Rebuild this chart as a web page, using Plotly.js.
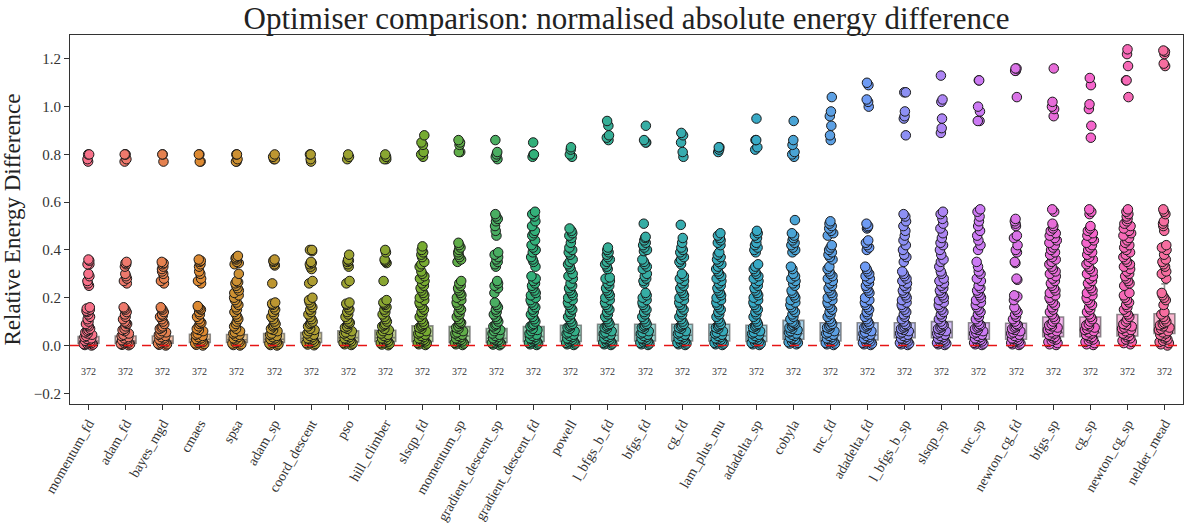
<!DOCTYPE html>
<html>
<head>
<meta charset="utf-8">
<script src="https://cdn.plot.ly/plotly-3.0.1.min.js"></script>
<style>html,body{margin:0;padding:0;background:#fff;}#chart{width:1192px;height:525px;}</style>
</head>
<body>
<div id="chart"></div>
<script>
const categories = ["momentum_fd","adam_fd","bayes_mgd","cmaes","spsa","adam_sp","coord_descent","pso","hill_climber","slsqp_fd","momentum_sp","gradient_descent_sp","gradient_descent_fd","powell","l_bfgs_b_fd","bfgs_fd","cg_fd","lam_plus_mu","adadelta_sp","cobyla","tnc_fd","adadelta_fd","l_bfgs_b_sp","slsqp_sp","tnc_sp","newton_cg_fd","bfgs_sp","cg_sp","newton_cg_sp","nelder_mead"];

const counts = [372,372,372,372,372,372,372,372,372,372,372,372,372,372,372,372,372,372,372,372,372,372,372,372,372,372,372,372,372,372];

// box statistics
const q1 =         [0.010,0.010,0.010,0.013,0.013,0.013,0.013,0.015,0.017,0.017,0.013,0.013,0.017,0.017,0.019,0.019,0.019,0.019,0.017,0.026,0.019,0.023,0.033,0.033,0.026,0.026,0.037,0.037,0.040,0.050];
const medians =    [0.019,0.019,0.019,0.026,0.024,0.026,0.029,0.033,0.033,0.040,0.040,0.030,0.037,0.043,0.043,0.043,0.043,0.043,0.040,0.050,0.044,0.044,0.057,0.054,0.051,0.051,0.054,0.054,0.070,0.084];
const q3 =         [0.037,0.040,0.040,0.047,0.046,0.050,0.054,0.061,0.064,0.082,0.079,0.071,0.079,0.085,0.089,0.089,0.089,0.089,0.085,0.105,0.095,0.095,0.095,0.100,0.095,0.093,0.119,0.119,0.130,0.133];
const lowerfence = [0.000,0.001,0.000,0.000,0.000,0.000,0.001,0.002,0.001,0.002,0.002,0.001,0.002,0.002,0.002,0.002,0.002,0.002,0.002,0.005,0.002,0.002,0.002,0.002,0.002,0.002,0.002,0.002,0.005,0.000];
const upperfence = [0.078,0.085,0.085,0.098,0.096,0.105,0.116,0.130,0.134,0.180,0.178,0.158,0.172,0.187,0.194,0.194,0.194,0.194,0.187,0.223,0.209,0.203,0.188,0.200,0.199,0.193,0.242,0.242,0.265,0.258];

// visible sample points per optimiser
const momentum_fd = [0.80,0.80,0.78,0.77,0.36,0.355,0.34,0.34,0.30,0.29,0.27,0.26,0.25,0.16,0.155,0.15,0.145,0.14,0.13,0.12,0.11,0.10,0.09,0.085,0.08,0.07,0.065,0.06,0.055,0.05,0.045,0.04,0.035,0.03,0.027,0.024,0.02,0.018,0.015,0.012,0.01,0.008,0.006,0.004,0.002,0.0];
const adam_fd = [0.80,0.80,0.80,0.78,0.77,0.35,0.345,0.34,0.33,0.30,0.29,0.28,0.27,0.26,0.16,0.155,0.15,0.14,0.13,0.12,0.11,0.10,0.095,0.09,0.08,0.07,0.065,0.06,0.05,0.045,0.04,0.035,0.03,0.026,0.022,0.02,0.017,0.014,0.012,0.01,0.007,0.005,0.003,0.001];
const bayes_mgd = [0.80,0.80,0.77,0.35,0.345,0.34,0.33,0.32,0.31,0.30,0.28,0.27,0.26,0.16,0.155,0.15,0.14,0.13,0.125,0.12,0.11,0.10,0.09,0.08,0.075,0.07,0.06,0.055,0.05,0.045,0.04,0.035,0.03,0.025,0.022,0.02,0.016,0.013,0.01,0.008,0.005,0.003,0.0];
const cmaes = [0.80,0.80,0.77,0.77,0.36,0.355,0.35,0.34,0.33,0.31,0.30,0.28,0.27,0.26,0.165,0.16,0.155,0.15,0.14,0.13,0.12,0.11,0.10,0.095,0.09,0.08,0.07,0.065,0.06,0.05,0.045,0.04,0.035,0.03,0.027,0.024,0.02,0.017,0.014,0.012,0.009,0.006,0.003,0.0];
const spsa = [0.80,0.80,0.78,0.77,0.77,0.375,0.37,0.365,0.36,0.35,0.345,0.34,0.30,0.27,0.265,0.26,0.25,0.24,0.23,0.22,0.21,0.20,0.19,0.18,0.17,0.16,0.15,0.14,0.13,0.12,0.11,0.10,0.09,0.08,0.07,0.06,0.055,0.05,0.045,0.04,0.035,0.03,0.025,0.02,0.017,0.014,0.011,0.008,0.005,0.002,0.0];
const adam_sp = [0.80,0.79,0.78,0.78,0.36,0.355,0.35,0.34,0.335,0.26,0.18,0.175,0.17,0.16,0.15,0.14,0.13,0.12,0.11,0.10,0.09,0.085,0.08,0.07,0.065,0.06,0.05,0.045,0.04,0.035,0.03,0.027,0.024,0.02,0.017,0.014,0.011,0.008,0.005,0.002,0.0];
const coord_descent = [0.80,0.80,0.78,0.77,0.40,0.40,0.395,0.35,0.345,0.34,0.33,0.32,0.27,0.26,0.20,0.19,0.18,0.17,0.16,0.15,0.14,0.13,0.12,0.11,0.10,0.095,0.09,0.08,0.07,0.065,0.06,0.05,0.045,0.04,0.035,0.03,0.027,0.024,0.02,0.016,0.013,0.01,0.007,0.004,0.001];
const pso = [0.80,0.79,0.78,0.38,0.36,0.355,0.35,0.34,0.33,0.27,0.26,0.18,0.175,0.17,0.16,0.15,0.14,0.13,0.12,0.11,0.10,0.095,0.09,0.08,0.075,0.07,0.06,0.055,0.05,0.045,0.04,0.035,0.03,0.027,0.024,0.02,0.017,0.014,0.011,0.008,0.005,0.002];
const hill_climber = [0.80,0.79,0.78,0.78,0.40,0.39,0.36,0.355,0.35,0.345,0.27,0.19,0.18,0.175,0.17,0.16,0.15,0.14,0.13,0.12,0.11,0.10,0.09,0.085,0.08,0.07,0.065,0.06,0.05,0.045,0.04,0.035,0.03,0.027,0.024,0.02,0.016,0.013,0.01,0.007,0.004,0.001];
const slsqp_fd = [0.88,0.85,0.84,0.81,0.80,0.79,0.415,0.40,0.39,0.38,0.37,0.35,0.34,0.33,0.31,0.30,0.29,0.28,0.27,0.26,0.25,0.24,0.23,0.22,0.21,0.20,0.19,0.18,0.17,0.16,0.15,0.14,0.13,0.12,0.11,0.10,0.09,0.085,0.08,0.075,0.07,0.06,0.055,0.05,0.045,0.04,0.035,0.03,0.027,0.024,0.02,0.017,0.014,0.011,0.008,0.005,0.002];
const momentum_sp = [0.86,0.85,0.84,0.81,0.81,0.43,0.42,0.41,0.40,0.39,0.38,0.37,0.36,0.35,0.27,0.26,0.25,0.24,0.23,0.22,0.21,0.20,0.19,0.18,0.17,0.16,0.15,0.14,0.13,0.12,0.11,0.10,0.095,0.09,0.08,0.075,0.07,0.06,0.055,0.05,0.045,0.04,0.035,0.03,0.027,0.024,0.02,0.017,0.014,0.011,0.008,0.005,0.002];
const gradient_descent_sp = [0.86,0.81,0.80,0.79,0.78,0.55,0.54,0.53,0.52,0.50,0.48,0.46,0.39,0.38,0.37,0.36,0.35,0.34,0.33,0.27,0.26,0.25,0.24,0.22,0.18,0.17,0.16,0.15,0.14,0.13,0.12,0.11,0.10,0.09,0.085,0.08,0.07,0.065,0.06,0.05,0.045,0.04,0.035,0.03,0.025,0.022,0.019,0.016,0.013,0.01,0.007,0.004,0.001];
const gradient_descent_fd = [0.85,0.80,0.80,0.79,0.56,0.55,0.54,0.52,0.50,0.48,0.47,0.46,0.44,0.42,0.41,0.40,0.39,0.37,0.36,0.35,0.33,0.29,0.28,0.27,0.26,0.25,0.24,0.23,0.22,0.21,0.20,0.19,0.18,0.17,0.16,0.15,0.14,0.13,0.12,0.11,0.10,0.09,0.085,0.08,0.07,0.065,0.06,0.05,0.045,0.04,0.035,0.03,0.027,0.024,0.02,0.017,0.014,0.011,0.008,0.005,0.002];
const powell = [0.83,0.82,0.80,0.79,0.49,0.48,0.47,0.46,0.45,0.43,0.41,0.40,0.39,0.38,0.36,0.35,0.34,0.33,0.32,0.30,0.29,0.28,0.26,0.25,0.24,0.23,0.22,0.21,0.20,0.19,0.18,0.17,0.16,0.15,0.14,0.13,0.12,0.11,0.10,0.09,0.085,0.08,0.075,0.07,0.06,0.055,0.05,0.045,0.04,0.035,0.03,0.027,0.024,0.02,0.017,0.014,0.011,0.008,0.005,0.002];
const l_bfgs_b_fd = [0.94,0.92,0.88,0.87,0.86,0.41,0.40,0.39,0.38,0.37,0.36,0.35,0.34,0.33,0.32,0.285,0.28,0.27,0.26,0.25,0.24,0.23,0.22,0.21,0.20,0.19,0.18,0.17,0.16,0.15,0.14,0.13,0.12,0.11,0.10,0.09,0.085,0.08,0.075,0.07,0.06,0.055,0.05,0.045,0.04,0.035,0.03,0.027,0.024,0.02,0.017,0.014,0.011,0.008,0.005,0.002];
const bfgs_fd = [0.92,0.86,0.85,0.85,0.51,0.455,0.45,0.44,0.43,0.42,0.41,0.40,0.395,0.36,0.35,0.34,0.33,0.32,0.30,0.29,0.28,0.27,0.26,0.22,0.21,0.20,0.19,0.18,0.17,0.16,0.15,0.14,0.13,0.12,0.11,0.10,0.09,0.085,0.08,0.075,0.07,0.06,0.055,0.05,0.045,0.04,0.035,0.03,0.027,0.024,0.02,0.017,0.014,0.011,0.008,0.005,0.002];
const cg_fd = [0.89,0.88,0.85,0.81,0.79,0.505,0.45,0.43,0.41,0.40,0.39,0.38,0.37,0.36,0.35,0.34,0.30,0.29,0.28,0.27,0.26,0.25,0.24,0.23,0.22,0.21,0.20,0.19,0.18,0.17,0.16,0.15,0.14,0.13,0.12,0.11,0.10,0.09,0.085,0.08,0.075,0.07,0.06,0.055,0.05,0.045,0.04,0.035,0.03,0.027,0.024,0.02,0.017,0.014,0.011,0.008,0.005,0.002];
const lam_plus_mu = [0.83,0.83,0.82,0.81,0.47,0.46,0.45,0.44,0.43,0.42,0.39,0.38,0.37,0.36,0.35,0.34,0.33,0.32,0.31,0.30,0.29,0.28,0.27,0.26,0.25,0.24,0.23,0.22,0.21,0.20,0.19,0.18,0.17,0.16,0.15,0.14,0.13,0.12,0.11,0.10,0.09,0.085,0.08,0.075,0.07,0.06,0.055,0.05,0.045,0.04,0.035,0.03,0.027,0.024,0.02,0.017,0.014,0.011,0.008,0.005,0.002];
const adadelta_sp = [0.95,0.86,0.86,0.83,0.82,0.48,0.47,0.46,0.45,0.43,0.42,0.41,0.40,0.39,0.34,0.33,0.32,0.31,0.30,0.29,0.28,0.27,0.26,0.25,0.24,0.23,0.22,0.21,0.20,0.19,0.18,0.17,0.16,0.15,0.14,0.13,0.12,0.11,0.10,0.09,0.085,0.08,0.075,0.07,0.06,0.055,0.05,0.045,0.04,0.035,0.03,0.027,0.024,0.02,0.017,0.014,0.011,0.008,0.005,0.002];
const cobyla = [0.94,0.86,0.84,0.81,0.80,0.79,0.525,0.47,0.46,0.45,0.44,0.43,0.42,0.41,0.40,0.39,0.33,0.32,0.30,0.29,0.28,0.27,0.26,0.25,0.23,0.22,0.21,0.20,0.19,0.18,0.17,0.16,0.15,0.14,0.13,0.12,0.11,0.10,0.095,0.09,0.085,0.08,0.075,0.07,0.065,0.06,0.055,0.05,0.045,0.04,0.035,0.03,0.027,0.024,0.02,0.017,0.014,0.011,0.008,0.005];
const tnc_fd = [1.04,0.98,0.96,0.92,0.88,0.86,0.52,0.51,0.50,0.49,0.48,0.47,0.46,0.42,0.41,0.40,0.39,0.38,0.37,0.36,0.33,0.32,0.31,0.30,0.29,0.28,0.27,0.26,0.25,0.24,0.23,0.22,0.21,0.20,0.19,0.18,0.17,0.16,0.15,0.14,0.13,0.12,0.11,0.10,0.09,0.085,0.08,0.075,0.07,0.06,0.055,0.05,0.045,0.04,0.035,0.03,0.027,0.024,0.02,0.017,0.014,0.011,0.008,0.005,0.002];
const adadelta_fd = [1.10,1.09,1.03,1.02,1.00,0.51,0.50,0.495,0.49,0.44,0.43,0.42,0.41,0.40,0.33,0.32,0.31,0.30,0.29,0.28,0.27,0.26,0.25,0.24,0.23,0.22,0.20,0.19,0.18,0.17,0.16,0.15,0.14,0.13,0.12,0.11,0.10,0.09,0.085,0.08,0.075,0.07,0.06,0.055,0.05,0.045,0.04,0.035,0.03,0.027,0.024,0.02,0.017,0.014,0.011,0.008,0.005,0.002];
const l_bfgs_b_sp = [1.06,1.06,0.98,0.96,0.95,0.88,0.55,0.54,0.52,0.50,0.48,0.46,0.44,0.42,0.40,0.38,0.37,0.35,0.31,0.30,0.29,0.28,0.27,0.26,0.25,0.24,0.23,0.22,0.21,0.20,0.19,0.18,0.17,0.16,0.15,0.14,0.13,0.12,0.11,0.10,0.09,0.085,0.08,0.075,0.07,0.065,0.06,0.055,0.05,0.045,0.04,0.035,0.03,0.027,0.024,0.02,0.017,0.014,0.011,0.008,0.005,0.002];
const slsqp_sp = [1.13,1.03,1.02,0.95,0.91,0.89,0.56,0.55,0.53,0.51,0.49,0.47,0.45,0.43,0.42,0.40,0.38,0.36,0.35,0.33,0.31,0.30,0.28,0.27,0.26,0.25,0.24,0.23,0.22,0.21,0.20,0.19,0.18,0.17,0.16,0.15,0.14,0.13,0.12,0.11,0.10,0.09,0.085,0.08,0.075,0.07,0.065,0.06,0.055,0.05,0.045,0.04,0.035,0.03,0.027,0.024,0.02,0.017,0.014,0.011,0.008,0.005,0.002];
const tnc_sp = [1.11,1.11,1.00,0.98,0.94,0.94,0.57,0.56,0.54,0.52,0.50,0.48,0.46,0.44,0.42,0.40,0.35,0.33,0.31,0.30,0.28,0.27,0.25,0.24,0.23,0.22,0.21,0.20,0.19,0.18,0.17,0.16,0.15,0.14,0.13,0.12,0.11,0.10,0.09,0.085,0.08,0.075,0.07,0.065,0.06,0.055,0.05,0.045,0.04,0.035,0.03,0.027,0.024,0.02,0.017,0.014,0.011,0.008,0.005,0.002];
const newton_cg_fd = [1.16,1.16,1.15,1.15,1.04,0.53,0.52,0.51,0.50,0.46,0.45,0.42,0.40,0.39,0.35,0.345,0.28,0.275,0.21,0.205,0.19,0.16,0.15,0.14,0.13,0.12,0.11,0.10,0.09,0.085,0.08,0.075,0.07,0.065,0.06,0.055,0.05,0.045,0.04,0.035,0.03,0.027,0.024,0.02,0.017,0.014,0.011,0.008,0.005,0.002];
const bfgs_sp = [1.16,1.02,1.00,0.99,0.96,0.57,0.56,0.51,0.50,0.49,0.48,0.47,0.46,0.45,0.44,0.43,0.42,0.41,0.40,0.39,0.38,0.37,0.36,0.35,0.34,0.33,0.32,0.31,0.30,0.29,0.28,0.27,0.26,0.25,0.24,0.23,0.22,0.21,0.20,0.19,0.18,0.17,0.16,0.15,0.14,0.13,0.12,0.11,0.10,0.09,0.085,0.08,0.075,0.07,0.065,0.06,0.055,0.05,0.045,0.04,0.035,0.03,0.025,0.02,0.015,0.01,0.005,0.002];
const cg_sp = [1.12,1.09,1.01,0.99,0.92,0.87,0.57,0.56,0.55,0.50,0.49,0.48,0.47,0.46,0.45,0.44,0.43,0.42,0.41,0.40,0.39,0.38,0.37,0.36,0.35,0.34,0.33,0.32,0.31,0.30,0.29,0.28,0.27,0.26,0.25,0.24,0.23,0.22,0.21,0.20,0.19,0.18,0.17,0.16,0.15,0.14,0.13,0.12,0.11,0.10,0.09,0.085,0.08,0.075,0.07,0.065,0.06,0.055,0.05,0.045,0.04,0.035,0.03,0.025,0.02,0.015,0.01,0.005,0.002];
const newton_cg_sp = [1.24,1.22,1.17,1.11,1.11,1.04,0.57,0.56,0.55,0.54,0.53,0.52,0.51,0.50,0.49,0.48,0.47,0.46,0.45,0.44,0.43,0.42,0.41,0.40,0.39,0.38,0.37,0.36,0.35,0.34,0.33,0.32,0.31,0.30,0.29,0.28,0.27,0.26,0.25,0.22,0.21,0.20,0.19,0.18,0.17,0.16,0.15,0.14,0.13,0.12,0.11,0.10,0.09,0.085,0.08,0.075,0.07,0.065,0.06,0.055,0.05,0.045,0.04,0.035,0.03,0.025,0.02,0.015,0.01,0.005];
const nelder_mead = [1.235,1.23,1.22,1.18,1.17,0.57,0.56,0.55,0.52,0.51,0.50,0.48,0.42,0.41,0.40,0.38,0.36,0.35,0.34,0.33,0.31,0.30,0.28,0.22,0.21,0.20,0.19,0.17,0.14,0.13,0.12,0.11,0.10,0.095,0.09,0.085,0.08,0.075,0.07,0.065,0.06,0.055,0.05,0.045,0.04,0.035,0.03,0.025,0.02,0.015,0.01,0.005,0.0];

const pointSets = [momentum_fd,adam_fd,bayes_mgd,cmaes,spsa,adam_sp,coord_descent,pso,hill_climber,slsqp_fd,momentum_sp,gradient_descent_sp,gradient_descent_fd,powell,l_bfgs_b_fd,bfgs_fd,cg_fd,lam_plus_mu,adadelta_sp,cobyla,tnc_fd,adadelta_fd,l_bfgs_b_sp,slsqp_sp,tnc_sp,newton_cg_fd,bfgs_sp,cg_sp,newton_cg_sp,nelder_mead];

const colors = ["#f77189","#ee796c","#e5814f","#dc8932","#cd9032","#bd9631","#ae9d31","#9ca231","#89a631","#77ab31","#60ad49","#4aae62","#33b07a","#34af88","#35ae96","#36ada4","#37acaf","#37aaba","#38a9c5","#4aa4d5","#5ca0e4","#6e9bf4","#8d90f4","#ad85f4","#cc7af4","#da73e7","#e76cd9","#f565cc","#f669b6","#f66d9f"];

function rgba(hex, a) {
  const r = parseInt(hex.slice(1,3),16), g = parseInt(hex.slice(3,5),16), b = parseInt(hex.slice(5,7),16);
  return `rgba(${r},${g},${b},${a})`;
}

const FONT = "Liberation Serif, DejaVu Serif, serif";
const traces = [];
categories.forEach((c, i) => {
  traces.push({
    type: 'box', x: [c], q1: [q1[i]], median: [medians[i]], q3: [q3[i]],
    lowerfence: [lowerfence[i]], upperfence: [upperfence[i]],
    fillcolor: rgba(colors[i], 0.5),
    line: {color: 'rgba(70,70,70,0.6)', width: 1.6},
    whiskerwidth: 0.3, boxpoints: false, hoverinfo: 'skip', showlegend: false
  });
});
categories.forEach((c, i) => {
  const ys = pointSets[i];
  traces.push({
    type: 'box', x: ys.map(() => c), y: ys,
    boxpoints: 'all', jitter: 0.55, pointpos: 0,
    fillcolor: 'rgba(0,0,0,0)', line: {color: 'rgba(0,0,0,0)', width: 0},
    marker: {color: colors[i], size: 9.5, line: {color: '#1a1a1a', width: 1}},
    showlegend: false
  });
});

const annotations = categories.map((c, i) => ({
  x: c, y: -0.107, xref: 'x', yref: 'y', text: String(counts[i]), showarrow: false,
  font: {family: FONT, size: 10, color: '#333'}
}));

const layout = {
  width: 1192, height: 525,
  margin: {l: 70, r: 9, t: 35, b: 121},
  paper_bgcolor: 'white', plot_bgcolor: 'white',
  boxmode: 'overlay', boxgap: 0.2,
  showlegend: false,
  title: {text: 'Optimiser comparison: normalised absolute energy difference',
          font: {family: FONT, size: 31, color: '#222'},
          x: 0.5, xref: 'paper', xanchor: 'center', y: 0.966, yref: 'container', yanchor: 'middle'},
  xaxis: {type: 'category', range: [-0.5, 29.5], tickangle: -60, ticks: 'outside', ticklen: 5,
          tickcolor: '#333', showline: true, linecolor: '#333', linewidth: 1, mirror: true,
          showgrid: false, zeroline: false, tickfont: {family: FONT, size: 14, color: '#333'},
          automargin: false},
  yaxis: {range: [-0.245, 1.3], tick0: 0, dtick: 0.2, tickformat: '.1f', ticks: 'outside', ticklen: 5,
          tickcolor: '#333', showline: true, linecolor: '#333', linewidth: 1, mirror: true,
          showgrid: false, zeroline: false, tickfont: {family: FONT, size: 15, color: '#333'},
          title: {text: 'Relative Energy Difference', font: {family: FONT, size: 23, color: '#222'}, standoff: 12},
          automargin: false},
  shapes: [{type: 'line', xref: 'paper', x0: 0, x1: 1, yref: 'y', y0: 0, y1: 0,
            line: {color: 'rgb(230,20,20)', width: 1.5, dash: 'dash'}, layer: 'above'}],
  annotations: annotations
};

Plotly.newPlot('chart', traces, layout, {displayModeBar: false, staticPlot: true});
</script>
</body>
</html>
